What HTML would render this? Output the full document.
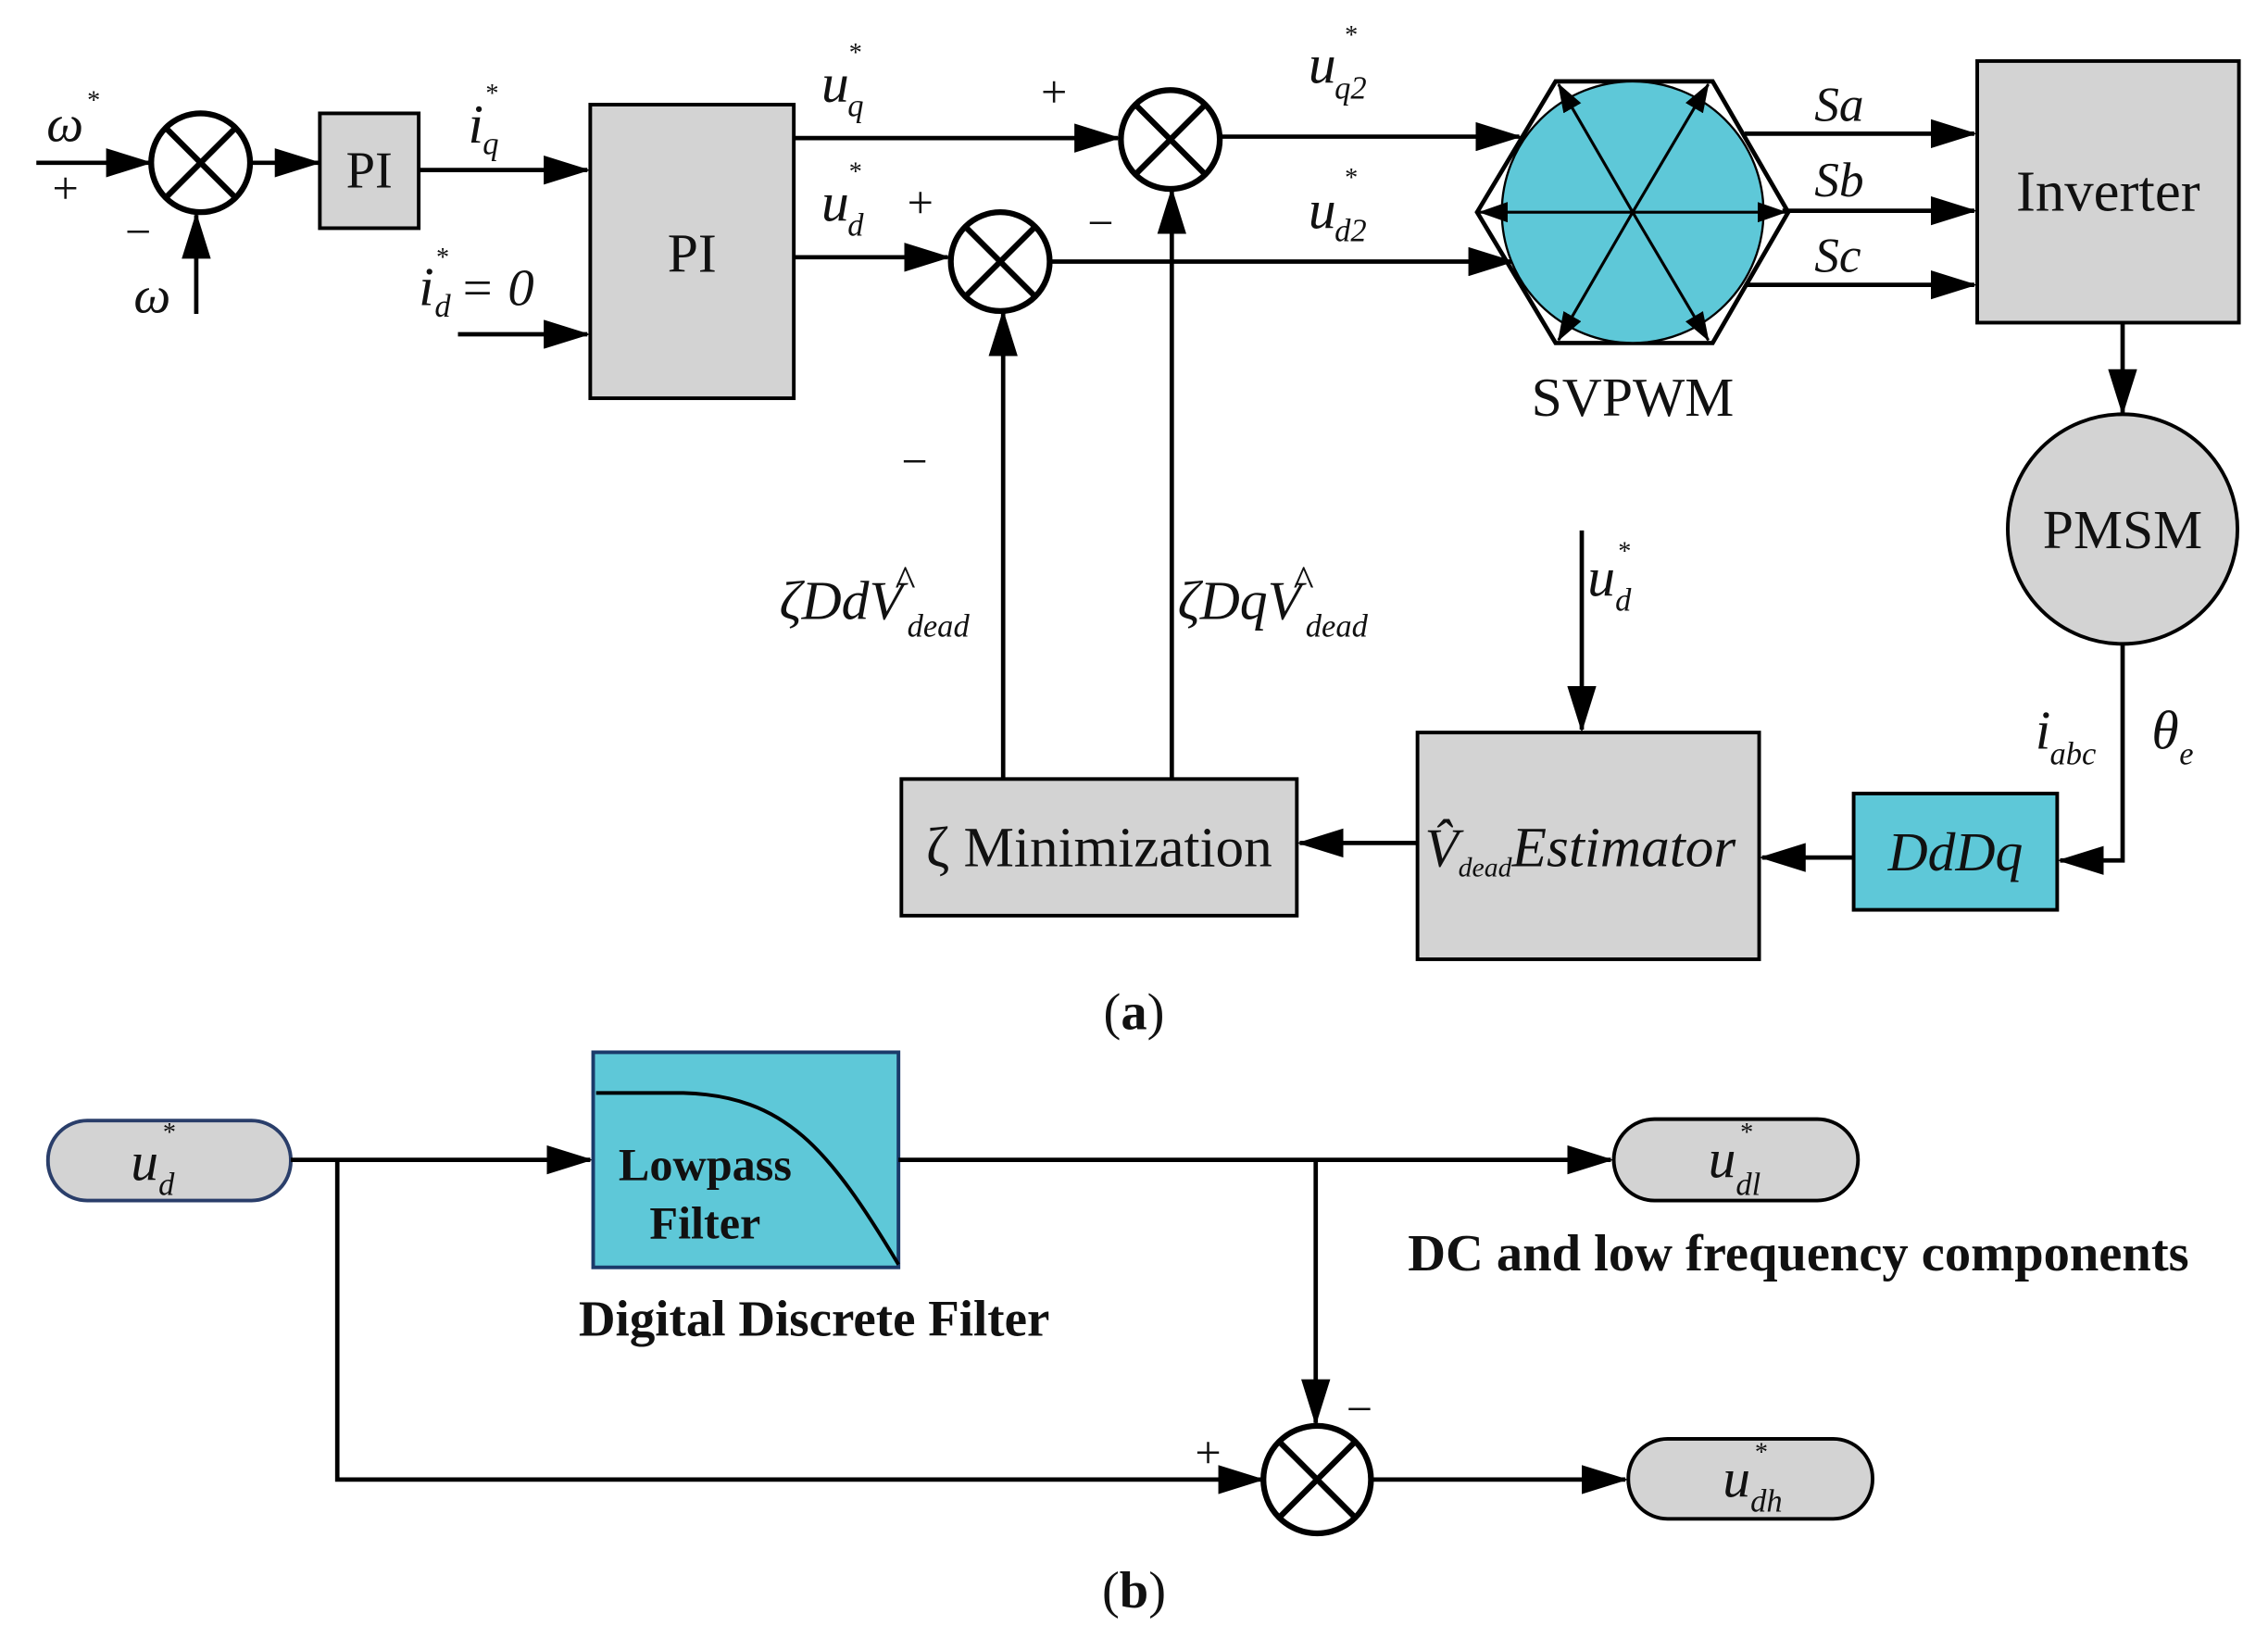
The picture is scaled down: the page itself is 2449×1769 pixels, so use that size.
<!DOCTYPE html>
<html><head><meta charset="utf-8"><style>
html,body{margin:0;padding:0;background:#fff;}
svg{display:block;}
text{font-family:"Liberation Serif",serif;fill:#111;}
.it{font-style:italic;}
</style></head><body>
<svg width="2449" height="1769" viewBox="0 0 1560 1127" preserveAspectRatio="none" xmlns="http://www.w3.org/2000/svg">
<defs>
<marker id="A" markerWidth="32" markerHeight="20" refX="30" refY="10" orient="auto" markerUnits="userSpaceOnUse">
<path d="M0,0 L32,10 L0,20 z" fill="#000"/></marker>
<marker id="s" markerWidth="20" markerHeight="14" refX="19" refY="7" orient="auto" markerUnits="userSpaceOnUse">
<path d="M0,0 L20,7 L0,14 z" fill="#000"/></marker>
</defs>
<g stroke="#000" stroke-width="3" fill="none">
<line x1="25" y1="112" x2="103" y2="112" marker-end="url(#A)"/>
<circle cx="138" cy="112" r="34" stroke-width="4"/>
<line x1="114" y1="88" x2="162" y2="136" stroke-width="4"/><line x1="162" y1="88" x2="114" y2="136" stroke-width="4"/>
<line x1="135" y1="216" x2="135" y2="148" marker-end="url(#A)"/>
<line x1="172" y1="112" x2="219" y2="112" marker-end="url(#A)"/>
<rect x="220" y="78" width="68" height="79" fill="#d3d3d3" stroke-width="2.5"/>
<line x1="288" y1="117" x2="404" y2="117" marker-end="url(#A)"/>
<line x1="315" y1="230" x2="404" y2="230" marker-end="url(#A)"/>
<rect x="406" y="72" width="140" height="202" fill="#d3d3d3" stroke-width="2.5"/>
<line x1="546" y1="95" x2="769" y2="95" marker-end="url(#A)"/>
<line x1="546" y1="177" x2="652" y2="177" marker-end="url(#A)"/>
<circle cx="805" cy="96" r="34" stroke-width="4"/>
<line x1="781" y1="72" x2="829" y2="120" stroke-width="4"/><line x1="829" y1="72" x2="781" y2="120" stroke-width="4"/>
<circle cx="688" cy="180" r="34" stroke-width="4"/>
<line x1="664" y1="156" x2="712" y2="204" stroke-width="4"/><line x1="712" y1="156" x2="664" y2="204" stroke-width="4"/>
<line x1="722" y1="180" x2="1040" y2="180" marker-end="url(#A)"/>
<line x1="839" y1="94" x2="1045" y2="94" marker-end="url(#A)"/>
<line x1="690" y1="535" x2="690" y2="215" marker-end="url(#A)"/>
<line x1="806" y1="535" x2="806" y2="131" marker-end="url(#A)"/>
<rect x="620" y="536" width="272" height="94" fill="#d3d3d3" stroke-width="2.5"/>
<rect x="975" y="504" width="235" height="156" fill="#d3d3d3" stroke-width="2.5"/>
<line x1="975" y1="580" x2="894" y2="580" marker-end="url(#A)"/>
<line x1="1088" y1="365" x2="1088" y2="502" marker-end="url(#A)"/>
<rect x="1275" y="546" width="140" height="80" fill="#5ec8d8" stroke-width="2.5"/>
<line x1="1275" y1="590" x2="1212" y2="590" marker-end="url(#A)"/>
<circle cx="1460" cy="364" r="79" fill="#d3d3d3" stroke-width="2.5"/>
<polyline points="1460,443 1460,592 1417,592" marker-end="url(#A)"/>
<rect x="1360" y="42" width="180" height="180" fill="#d3d3d3" stroke-width="2.5"/>
<line x1="1460" y1="222" x2="1460" y2="284" marker-end="url(#A)"/>
<polygon points="1016,146 1070,56 1178,56 1230,146 1178,236 1070,236"/>
<circle cx="1123" cy="146" r="90" fill="#5ec8d8" stroke-width="1.5"/>
<g stroke-width="2">
<line x1="1123" y1="146" x2="1072" y2="58" marker-end="url(#s)"/>
<line x1="1123" y1="146" x2="1175" y2="58" marker-end="url(#s)"/>
<line x1="1123" y1="146" x2="1228" y2="146" marker-end="url(#s)"/>
<line x1="1123" y1="146" x2="1175" y2="234" marker-end="url(#s)"/>
<line x1="1123" y1="146" x2="1072" y2="234" marker-end="url(#s)"/>
<line x1="1123" y1="146" x2="1018" y2="146" marker-end="url(#s)"/>
</g>
<line x1="1200" y1="92" x2="1358" y2="92" marker-end="url(#A)"/>
<line x1="1226" y1="145" x2="1358" y2="145" marker-end="url(#A)"/>
<line x1="1200" y1="196" x2="1358" y2="196" marker-end="url(#A)"/>
<rect x="33" y="771" width="167" height="55" rx="27" fill="#d3d3d3" stroke="#2a3e6a" stroke-width="2.5"/>
<line x1="200" y1="798" x2="406" y2="798" marker-end="url(#A)"/>
<rect x="408" y="724" width="210" height="148" fill="#5ec8d8" stroke="#1a3a6a" stroke-width="2.5"/>
<path d="M410,752 L470,752 C540,754 570,790 618,870" stroke-width="2.5"/>
<line x1="618" y1="798" x2="1108" y2="798" marker-end="url(#A)"/>
<rect x="1110" y="770" width="168" height="56" rx="28" fill="#d3d3d3" stroke-width="2.5"/>
<line x1="905" y1="798" x2="905" y2="979" marker-end="url(#A)"/>
<polyline points="232,798 232,1018 868,1018" marker-end="url(#A)"/>
<circle cx="906" cy="1018" r="37" stroke-width="4"/>
<line x1="880" y1="992" x2="932" y2="1044" stroke-width="4"/><line x1="932" y1="992" x2="880" y2="1044" stroke-width="4"/>
<line x1="943" y1="1018" x2="1118" y2="1018" marker-end="url(#A)"/>
<rect x="1120" y="990" width="168" height="55" rx="27" fill="#d3d3d3" stroke-width="2.5"/>
</g>
<g font-size="32">
<text x="32" y="97" class="it" font-size="36">ω</text><text x="60" y="75" font-size="18">*</text>
<text x="36" y="140">+</text><text x="86" y="170">−</text>
<text x="92" y="215" class="it" font-size="36">ω</text>
<text x="254" y="129" text-anchor="middle" font-size="36">PI</text>
<text x="322" y="98" class="it" font-size="38">i</text><text x="334" y="70" font-size="18">*</text><text x="332" y="106" class="it" font-size="22">q</text>
<text x="288" y="210" class="it" font-size="38">i</text><text x="300" y="183" font-size="18">*</text><text x="299" y="218" class="it" font-size="22">d</text><text x="316" y="210" class="it" font-size="36"> = 0</text>
<text x="476" y="187" text-anchor="middle" font-size="38">PI</text>
<text x="565" y="70" class="it" font-size="38">u</text><text x="584" y="42" font-size="18">*</text><text x="583" y="80" class="it" font-size="22">q</text>
<text x="565" y="152" class="it" font-size="38">u</text><text x="584" y="124" font-size="18">*</text><text x="583" y="162" class="it" font-size="22">d</text>
<text x="716" y="74">+</text><text x="624" y="150">+</text><text x="748" y="164">−</text>
<text x="620" y="328">−</text>
<text x="900" y="57" class="it" font-size="38">u</text><text x="925" y="30" font-size="18">*</text><text x="918" y="68" class="it" font-size="22">q2</text>
<text x="900" y="157" class="it" font-size="38">u</text><text x="925" y="128" font-size="18">*</text><text x="918" y="166" class="it" font-size="22">d2</text>
<text x="536" y="426" class="it" font-size="38">ζDdV</text><text x="615" y="410" class="it" font-size="30">^</text><text x="624" y="438" class="it" font-size="22">dead</text>
<text x="810" y="426" class="it" font-size="38">ζDqV</text><text x="889" y="410" class="it" font-size="30">^</text><text x="898" y="438" class="it" font-size="22">dead</text>
<text x="1092" y="410" class="it" font-size="38">u</text><text x="1113" y="385" font-size="18">*</text><text x="1111" y="420" class="it" font-size="22">d</text>
<text x="756" y="596" text-anchor="middle" font-size="39">ζ Minimization</text>
<text x="980" y="596" class="it" font-size="38">V̂</text><text x="1003" y="603" class="it" font-size="19">dead</text><text x="1040" y="596" class="it" font-size="39">Estimator</text>
<text x="1345" y="599" text-anchor="middle" class="it" font-size="38">DdDq</text>
<text x="1460" y="377" text-anchor="middle" font-size="38">PMSM</text>
<text x="1450" y="145" text-anchor="middle" font-size="40">Inverter</text>
<text x="1123" y="286" text-anchor="middle" font-size="38">SVPWM</text>
<text x="1248" y="83" class="it" font-size="34">Sa</text><text x="1248" y="135" class="it" font-size="34">Sb</text><text x="1248" y="187" class="it" font-size="34">Sc</text>
<text x="1400" y="515" class="it" font-size="38">i</text><text x="1410" y="526" class="it" font-size="22">abc</text>
<text x="1480" y="515" class="it" font-size="38">θ</text><text x="1499" y="526" class="it" font-size="22">e</text>
<text x="780" y="708" text-anchor="middle" font-size="36">(<tspan font-weight="bold">a</tspan>)</text>
<text x="90" y="812" class="it" font-size="38">u</text><text x="112" y="785" font-size="18">*</text><text x="109" y="822" class="it" font-size="22">d</text>
<text x="485" y="812" text-anchor="middle" font-weight="bold" font-size="32">Lowpass</text>
<text x="485" y="852" text-anchor="middle" font-weight="bold" font-size="32">Filter</text>
<text x="560" y="919" text-anchor="middle" font-weight="bold" font-size="35">Digital Discrete Filter</text>
<text x="1175" y="810" class="it" font-size="38">u</text><text x="1197" y="785" font-size="18">*</text><text x="1194" y="822" class="it" font-size="22">dl</text>
<text x="1237" y="874" text-anchor="middle" font-weight="bold" font-size="36">DC and low frequency components</text>
<text x="1185" y="1030" class="it" font-size="38">u</text><text x="1207" y="1005" font-size="18">*</text><text x="1204" y="1040" class="it" font-size="22">dh</text>
<text x="822" y="1010">+</text><text x="926" y="980">−</text>
<text x="780" y="1106" text-anchor="middle" font-size="36">(<tspan font-weight="bold">b</tspan>)</text>
</g>
</svg>
</body></html>
